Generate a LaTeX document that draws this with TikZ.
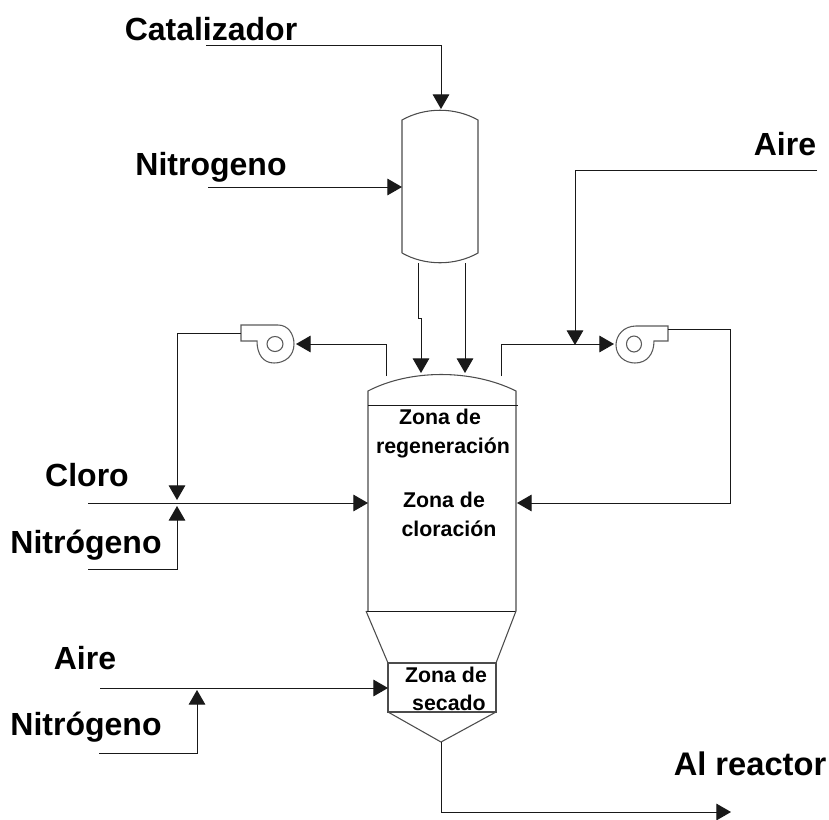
\documentclass[tikz,border=0pt]{standalone}
\usepackage{fontspec}
\setmainfont{Liberation Sans}
\usetikzlibrary{arrows.meta}
\tikzset{
 px/.style={x=0.75pt,y=-0.75pt},
 pipe/.style={draw=black!90,line width=0.7pt},
 flow/.style={pipe,-{Triangle[length=11pt,width=12.5pt]}},
 vessel/.style={draw=black!70,line width=0.8pt},
 blower/.style={draw=black!65,line width=0.8pt},
 lab/.style={font=\bfseries\fontsize{24}{26}\selectfont,inner sep=0pt,anchor=base},
 zone/.style={font=\bfseries\fontsize{16}{18}\selectfont,inner sep=0pt,anchor=base},
}
\begin{document}
\begin{tikzpicture}[px]
\useasboundingbox (0,0) rectangle (829,819);
% vessels
\draw[vessel] (402,253) -- (402,120) .. controls (425,107) and (455,107) .. (478,120) -- (478,253) .. controls (455,266) and (425,266) .. (402,253);
\draw[vessel] (368,611) -- (368,391) .. controls (410,369) and (472,369) .. (516,391) -- (516,611);
\draw[pipe] (368,405) -- (518,405);
\draw[pipe] (366,611) -- (516,611);
\draw[vessel] (366,611) -- (388,663) (516,611) -- (496,663);
\draw[vessel] (388,663) rectangle (496,712);
\draw[vessel] (388,712) -- (441,742) -- (496,712);
% blowers
\draw[blower] (241,325) -- (278,325) .. controls (288,325) and (294,334) .. (294,344)
  .. controls (294,356) and (285,363) .. (274,363) .. controls (263,363) and (257,354) .. (257,341) -- (241,341) -- cycle;
\draw[blower] (275,344) ellipse (8 and 7.5);
\draw[blower] (668,326) -- (636,326) .. controls (624,326) and (616,335) .. (616,345)
  .. controls (616,356) and (625,363) .. (635,363) .. controls (647,363) and (654,354) .. (654,341) -- (668,341) -- cycle;
\draw[blower] (634,344) ellipse (7.5 and 8);
% connectors
\draw[flow] (206,45) -- (441,45) -- (441,109);
\draw[flow] (208,187) -- (402,187);
\draw[flow] (418,263) -- (418,318) -- (421,318) -- (421,373);
\draw[flow] (465,263) -- (465,373);
\draw[flow] (386,376) -- (386,344) -- (296,344);
\draw[flow] (241,333) -- (177,333) -- (177,500);
\draw[flow] (88,503) -- (368,503);
\draw[flow] (88,569) -- (177,569) -- (177,506);
\draw[flow] (501,376) -- (501,344) -- (614,344);
\draw[flow] (817,170) -- (575,170) -- (575,345);
\draw[flow] (668,329) -- (730,329) -- (730,503) -- (517,503);
\draw[flow] (100,688) -- (388,688);
\draw[flow] (99,753) -- (197,753) -- (197,690);
\draw[flow] (441,742) -- (441,812) -- (731,812);
% labels
\node[lab] at (211,40) {Catalizador};
\node[lab] at (211,175) {Nitrogeno};
\node[lab] at (785,155) {Aire};
\node[lab] at (87,486) {Cloro};
\node[lab] at (86,553) {Nitrógeno};
\node[lab] at (85,669) {Aire};
\node[lab] at (86,735) {Nitrógeno};
\node[lab,font=\bfseries\fontsize{24.5}{27}\selectfont] at (750,775) {Al reactor};
\node[zone] at (440,424) {Zona de};
\node[zone] at (443,453) {regeneración};
\node[zone] at (444,507) {Zona de};
\node[zone] at (449,536) {cloración};
\node[zone] at (446,682) {Zona de};
\node[zone] at (449,710) {secado};
\end{tikzpicture}
\end{document}
